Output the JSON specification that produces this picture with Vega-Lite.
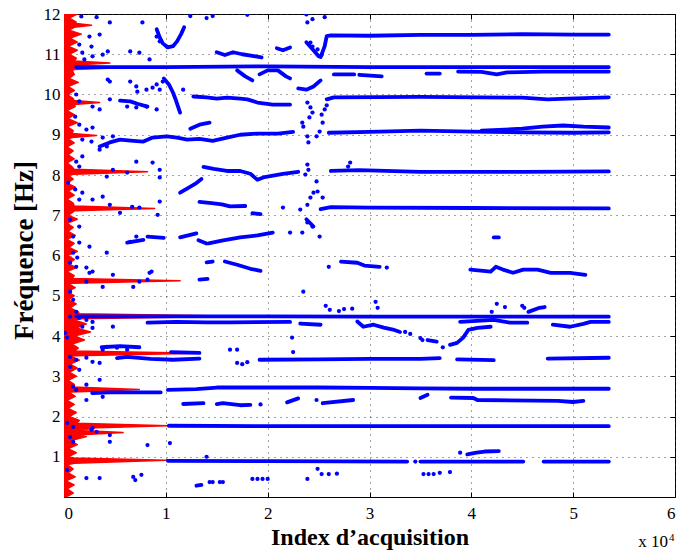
{
  "$schema": "https://vega.github.io/schema/vega-lite/v6.json",
  "width": 611,
  "height": 483,
  "autosize": {"type": "none"},
  "padding": {"left": 64, "top": 14, "right": 7, "bottom": 59},
  "background": "white",
  "config": {
    "view": {"stroke": "black", "strokeWidth": 1},
    "axis": {
      "labelFont": "Liberation Serif",
      "labelFontSize": 17,
      "labelColor": "black",
      "titleFont": "Liberation Serif",
      "titleFontWeight": "bold",
      "titleFontSize": 24,
      "titleColor": "black",
      "domainColor": "black",
      "tickColor": "black",
      "tickSize": -5,
      "gridColor": "#333333",
      "gridDash": [1, 5],
      "gridOpacity": 0.9,
      "gridWidth": 1
    }
  },
  "datasets": {
    "red": [
      {"f":0.0,"a":0.02},{"f":0.1,"a":0.09},{"f":0.2,"a":0.03},{"f":0.3,"a":0.1},{"f":0.4,"a":0.02},{"f":0.5,"a":0.11},{"f":0.6,"a":0.04},{"f":0.7,"a":0.09},{"f":0.8,"a":0.03},
      {"f":0.84,"a":0.1},{"f":0.91,"a":1.0},{"f":0.97,"a":0.1},
      {"f":1.0,"a":0.04},{"f":1.1,"a":0.12},{"f":1.2,"a":0.04},{"f":1.3,"a":0.13},{"f":1.4,"a":0.06},{"f":1.5,"a":0.22},
      {"f":1.54,"a":0.12},{"f":1.6,"a":0.58},{"f":1.66,"a":0.12},{"f":1.7,"a":0.3},
      {"f":1.71,"a":0.15},{"f":1.77,"a":1.02},{"f":1.83,"a":0.12},
      {"f":1.9,"a":0.15},{"f":2.0,"a":0.05},{"f":2.1,"a":0.12},{"f":2.2,"a":0.04},{"f":2.3,"a":0.1},{"f":2.4,"a":0.03},{"f":2.5,"a":0.11},{"f":2.6,"a":0.05},
      {"f":2.61,"a":0.08},{"f":2.67,"a":0.74},{"f":2.73,"a":0.08},
      {"f":2.8,"a":0.1},{"f":2.9,"a":0.04},{"f":3.0,"a":0.12},{"f":3.1,"a":0.05},{"f":3.2,"a":0.13},{"f":3.3,"a":0.06},{"f":3.4,"a":0.15},{"f":3.5,"a":0.07},
      {"f":3.51,"a":0.1},{"f":3.57,"a":1.33},{"f":3.63,"a":0.1},
      {"f":3.7,"a":0.14},{"f":3.8,"a":0.08},{"f":3.9,"a":0.2},{"f":4.0,"a":0.1},{"f":4.1,"a":0.26},{"f":4.2,"a":0.12},{"f":4.3,"a":0.22},{"f":4.4,"a":0.1},
      {"f":4.43,"a":0.15},{"f":4.49,"a":1.75},{"f":4.55,"a":0.15},
      {"f":4.6,"a":0.14},{"f":4.7,"a":0.06},{"f":4.8,"a":0.12},{"f":4.9,"a":0.04},{"f":5.0,"a":0.1},{"f":5.1,"a":0.03},{"f":5.2,"a":0.11},{"f":5.3,"a":0.04},
      {"f":5.31,"a":0.08},{"f":5.37,"a":1.14},{"f":5.43,"a":0.08},
      {"f":5.5,"a":0.1},{"f":5.6,"a":0.03},{"f":5.7,"a":0.12},{"f":5.8,"a":0.04},{"f":5.9,"a":0.1},{"f":6.0,"a":0.03},{"f":6.1,"a":0.13},{"f":6.2,"a":0.05},{"f":6.3,"a":0.1},{"f":6.4,"a":0.03},{"f":6.5,"a":0.11},{"f":6.6,"a":0.04},{"f":6.7,"a":0.09},{"f":6.8,"a":0.03},{"f":6.9,"a":0.13},{"f":7.0,"a":0.04},{"f":7.1,"a":0.1},
      {"f":7.11,"a":0.1},{"f":7.17,"a":0.89},{"f":7.23,"a":0.1},
      {"f":7.3,"a":0.09},{"f":7.4,"a":0.03},{"f":7.5,"a":0.1},{"f":7.6,"a":0.04},{"f":7.7,"a":0.11},{"f":7.8,"a":0.03},{"f":7.9,"a":0.09},{"f":8.0,"a":0.04},
      {"f":8.02,"a":0.1},{"f":8.08,"a":0.82},{"f":8.14,"a":0.1},
      {"f":8.2,"a":0.08},{"f":8.3,"a":0.03},{"f":8.4,"a":0.1},{"f":8.5,"a":0.04},{"f":8.6,"a":0.09},{"f":8.7,"a":0.03},{"f":8.8,"a":0.1},{"f":8.9,"a":0.04},
      {"f":8.93,"a":0.08},{"f":8.98,"a":0.32},{"f":9.03,"a":0.08},
      {"f":9.1,"a":0.09},{"f":9.2,"a":0.03},{"f":9.3,"a":0.13},{"f":9.4,"a":0.04},{"f":9.5,"a":0.1},{"f":9.6,"a":0.03},{"f":9.7,"a":0.11},
      {"f":9.75,"a":0.1},{"f":9.8,"a":0.35},{"f":9.85,"a":0.1},
      {"f":9.9,"a":0.09},{"f":10.0,"a":0.03},{"f":10.1,"a":0.1},{"f":10.2,"a":0.04},{"f":10.3,"a":0.14},{"f":10.4,"a":0.05},{"f":10.5,"a":0.1},{"f":10.6,"a":0.08},
      {"f":10.62,"a":0.1},{"f":10.67,"a":0.63},{"f":10.72,"a":0.1},
      {"f":10.73,"a":0.1},{"f":10.78,"a":0.45},{"f":10.83,"a":0.1},
      {"f":10.9,"a":0.12},{"f":11.0,"a":0.05},{"f":11.1,"a":0.13},{"f":11.2,"a":0.04},{"f":11.3,"a":0.13},{"f":11.4,"a":0.06},{"f":11.5,"a":0.17},{"f":11.6,"a":0.05},
      {"f":11.67,"a":0.1},{"f":11.72,"a":0.27},{"f":11.77,"a":0.1},
      {"f":11.8,"a":0.12},{"f":11.9,"a":0.05},{"f":12.0,"a":0.13}
    ],
    "seg": [
      {"s":1,"x":2.52,"y":10.93},{"s":1,"x":2.56,"y":11.2},{"s":1,"x":2.58,"y":11.45},{"s":1,"x":2.62,"y":11.47},{"s":1,"x":3.0,"y":11.46},{"s":1,"x":3.5,"y":11.48},{"s":1,"x":4.0,"y":11.48},{"s":1,"x":4.5,"y":11.5},{"s":1,"x":5.0,"y":11.49},{"s":1,"x":5.35,"y":11.49},
      {"s":2,"x":0.12,"y":10.68},{"s":2,"x":1.0,"y":10.68},{"s":2,"x":2.0,"y":10.7},{"s":2,"x":3.0,"y":10.68},{"s":2,"x":4.0,"y":10.68},{"s":2,"x":5.35,"y":10.68},
      {"s":3,"x":3.87,"y":10.57},{"s":3,"x":4.1,"y":10.56},{"s":3,"x":4.25,"y":10.5},{"s":3,"x":4.35,"y":10.55},{"s":3,"x":4.7,"y":10.57},{"s":3,"x":5.35,"y":10.57},
      {"s":4,"x":2.65,"y":10.5},{"s":4,"x":2.85,"y":10.5},
      {"s":5,"x":2.9,"y":10.49},{"s":5,"x":3.12,"y":10.45},
      {"s":6,"x":3.56,"y":10.52},{"s":6,"x":3.69,"y":10.52},
      {"s":7,"x":1.7,"y":10.6},{"s":7,"x":1.78,"y":10.45},{"s":7,"x":1.85,"y":10.35},
      {"s":8,"x":1.92,"y":10.5},{"s":8,"x":2.0,"y":10.6},{"s":8,"x":2.1,"y":10.6},{"s":8,"x":2.18,"y":10.45},{"s":8,"x":2.22,"y":10.4},
      {"s":9,"x":2.3,"y":10.15},{"s":9,"x":2.38,"y":10.12},{"s":9,"x":2.45,"y":10.2},{"s":9,"x":2.52,"y":10.35},
      {"s":11,"x":1.5,"y":11.05},{"s":11,"x":1.58,"y":10.98},{"s":11,"x":1.66,"y":11.05},{"s":11,"x":1.75,"y":11.0},{"s":11,"x":1.85,"y":10.96},{"s":11,"x":1.94,"y":10.92},
      {"s":12,"x":0.91,"y":11.62},{"s":12,"x":0.94,"y":11.42},{"s":12,"x":0.97,"y":11.27},{"s":12,"x":1.02,"y":11.17},{"s":12,"x":1.07,"y":11.2},{"s":12,"x":1.11,"y":11.32},{"s":12,"x":1.15,"y":11.5},{"s":12,"x":1.18,"y":11.67},
      {"s":13,"x":2.09,"y":11.15},{"s":13,"x":2.15,"y":11.1},{"s":13,"x":2.22,"y":11.17},
      {"s":14,"x":2.38,"y":11.3},{"s":14,"x":2.45,"y":11.1},{"s":14,"x":2.5,"y":10.95},
      {"s":15,"x":0.98,"y":10.4},{"s":15,"x":1.03,"y":10.25},{"s":15,"x":1.07,"y":10.05},{"s":15,"x":1.1,"y":9.85},{"s":15,"x":1.14,"y":9.55},
      {"s":16,"x":1.27,"y":9.95},{"s":16,"x":1.4,"y":9.93},{"s":16,"x":1.5,"y":9.9},{"s":16,"x":1.6,"y":9.92},{"s":16,"x":1.73,"y":9.9},{"s":16,"x":1.8,"y":9.88},{"s":16,"x":1.9,"y":9.8},{"s":16,"x":2.05,"y":9.75},{"s":16,"x":2.22,"y":9.75},
      {"s":17,"x":0.55,"y":9.85},{"s":17,"x":0.65,"y":9.83},{"s":17,"x":0.72,"y":9.77},{"s":17,"x":0.82,"y":9.7},
      {"s":18,"x":2.58,"y":9.88},{"s":18,"x":2.65,"y":9.93},{"s":18,"x":3.5,"y":9.94},{"s":18,"x":4.5,"y":9.92},{"s":18,"x":4.75,"y":9.88},{"s":18,"x":4.95,"y":9.9},{"s":18,"x":5.35,"y":9.93},
      {"s":19,"x":0.35,"y":8.71},{"s":19,"x":0.45,"y":8.81},{"s":19,"x":0.55,"y":8.88},{"s":19,"x":0.68,"y":8.85},{"s":19,"x":0.78,"y":8.83},{"s":19,"x":0.87,"y":8.93},{"s":19,"x":1.01,"y":8.96},{"s":19,"x":1.11,"y":8.93},{"s":19,"x":1.21,"y":8.88},{"s":19,"x":1.33,"y":8.9},{"s":19,"x":1.46,"y":8.85},{"s":19,"x":1.6,"y":8.93},{"s":19,"x":1.73,"y":9.0},{"s":19,"x":1.9,"y":9.03},{"s":19,"x":2.1,"y":9.03},{"s":19,"x":2.25,"y":9.07},
      {"s":20,"x":1.24,"y":9.15},{"s":20,"x":1.33,"y":9.25},{"s":20,"x":1.43,"y":9.3},
      {"s":21,"x":2.6,"y":9.05},{"s":21,"x":3.0,"y":9.07},{"s":21,"x":3.5,"y":9.1},{"s":21,"x":4.0,"y":9.08},{"s":21,"x":4.5,"y":9.06},{"s":21,"x":5.0,"y":9.05},{"s":21,"x":5.35,"y":9.06},
      {"s":22,"x":4.1,"y":9.1},{"s":22,"x":4.5,"y":9.15},{"s":22,"x":4.7,"y":9.2},{"s":22,"x":4.9,"y":9.23},{"s":22,"x":5.1,"y":9.2},{"s":22,"x":5.35,"y":9.18},
      {"s":23,"x":1.37,"y":8.2},{"s":23,"x":1.47,"y":8.15},{"s":23,"x":1.6,"y":8.1},{"s":23,"x":1.73,"y":8.1},{"s":23,"x":1.83,"y":8.03},{"s":23,"x":1.9,"y":7.88},{"s":23,"x":1.97,"y":7.95},{"s":23,"x":2.15,"y":8.03},{"s":23,"x":2.3,"y":8.08},
      {"s":24,"x":1.14,"y":7.56},{"s":24,"x":1.2,"y":7.65},{"s":24,"x":1.3,"y":7.8},{"s":24,"x":1.35,"y":7.9},
      {"s":25,"x":2.62,"y":8.1},{"s":25,"x":2.9,"y":8.12},{"s":25,"x":3.5,"y":8.08},{"s":25,"x":4.5,"y":8.08},{"s":25,"x":5.35,"y":8.09},
      {"s":27,"x":1.33,"y":7.33},{"s":27,"x":1.45,"y":7.3},{"s":27,"x":1.55,"y":7.27},{"s":27,"x":1.63,"y":7.22},{"s":27,"x":1.78,"y":7.23},
      {"s":28,"x":1.85,"y":7.05},{"s":28,"x":1.93,"y":7.03},
      {"s":29,"x":2.52,"y":7.15},{"s":29,"x":2.62,"y":7.2},{"s":29,"x":3.0,"y":7.19},{"s":29,"x":4.0,"y":7.18},{"s":29,"x":5.35,"y":7.17},
      {"s":30,"x":0.62,"y":6.32},{"s":30,"x":0.78,"y":6.39},
      {"s":31,"x":0.82,"y":6.47},{"s":31,"x":0.98,"y":6.44},
      {"s":32,"x":1.14,"y":6.45},{"s":32,"x":1.3,"y":6.55},
      {"s":33,"x":1.32,"y":6.38},{"s":33,"x":1.4,"y":6.3},
      {"s":34,"x":1.42,"y":6.3},{"s":34,"x":1.55,"y":6.37},{"s":34,"x":1.73,"y":6.45},{"s":34,"x":1.9,"y":6.5},{"s":34,"x":2.05,"y":6.57},
      {"s":35,"x":2.38,"y":6.9},{"s":35,"x":2.45,"y":6.72},
      {"s":36,"x":4.22,"y":6.45},{"s":36,"x":4.27,"y":6.45},
      {"s":37,"x":1.4,"y":5.83},{"s":37,"x":1.46,"y":5.85},
      {"s":38,"x":1.58,"y":5.85},{"s":38,"x":1.7,"y":5.77},{"s":38,"x":1.83,"y":5.67},{"s":38,"x":1.93,"y":5.62},
      {"s":39,"x":2.72,"y":5.85},{"s":39,"x":2.88,"y":5.82},{"s":39,"x":2.95,"y":5.75},{"s":39,"x":3.1,"y":5.72},
      {"s":40,"x":3.99,"y":5.65},{"s":40,"x":4.19,"y":5.6},{"s":40,"x":4.24,"y":5.72},{"s":40,"x":4.31,"y":5.65},{"s":40,"x":4.41,"y":5.57},{"s":40,"x":4.51,"y":5.65},{"s":40,"x":4.65,"y":5.65},{"s":40,"x":4.78,"y":5.57},{"s":40,"x":4.97,"y":5.57},{"s":40,"x":5.12,"y":5.52},
      {"s":41,"x":1.33,"y":5.4},{"s":41,"x":1.41,"y":5.42},
      {"s":42,"x":0.12,"y":4.49},{"s":42,"x":1.0,"y":4.49},{"s":42,"x":2.0,"y":4.49},{"s":42,"x":3.0,"y":4.48},{"s":42,"x":4.0,"y":4.48},{"s":42,"x":5.35,"y":4.48},
      {"s":43,"x":0.82,"y":4.33},{"s":43,"x":1.1,"y":4.35},{"s":43,"x":1.4,"y":4.34},{"s":43,"x":1.63,"y":4.34},{"s":43,"x":2.22,"y":4.35},
      {"s":44,"x":2.32,"y":4.31},{"s":44,"x":2.52,"y":4.28},
      {"s":45,"x":2.88,"y":4.36},{"s":45,"x":2.94,"y":4.23},{"s":45,"x":3.04,"y":4.28},{"s":45,"x":3.14,"y":4.21},{"s":45,"x":3.23,"y":4.16},{"s":45,"x":3.3,"y":4.1},
      {"s":46,"x":3.57,"y":3.9},{"s":46,"x":3.66,"y":3.86},
      {"s":47,"x":3.79,"y":3.78},{"s":47,"x":3.86,"y":3.83},{"s":47,"x":3.92,"y":3.96},{"s":47,"x":3.97,"y":4.15},{"s":47,"x":4.06,"y":4.2},{"s":47,"x":4.19,"y":4.23},
      {"s":48,"x":3.89,"y":4.35},{"s":48,"x":4.22,"y":4.4},{"s":48,"x":4.38,"y":4.33},{"s":48,"x":4.55,"y":4.33},
      {"s":49,"x":4.8,"y":4.28},{"s":49,"x":4.97,"y":4.23},{"s":49,"x":5.1,"y":4.3},{"s":49,"x":5.17,"y":4.35},{"s":49,"x":5.35,"y":4.35},
      {"s":50,"x":4.56,"y":4.6},{"s":50,"x":4.67,"y":4.7},{"s":50,"x":4.72,"y":4.72},
      {"s":51,"x":0.37,"y":3.72},{"s":51,"x":0.55,"y":3.75},{"s":51,"x":0.74,"y":3.72},
      {"s":52,"x":0.52,"y":3.45},{"s":52,"x":0.62,"y":3.48},{"s":52,"x":0.85,"y":3.43},{"s":52,"x":1.07,"y":3.41},{"s":52,"x":1.33,"y":3.44},
      {"s":53,"x":1.05,"y":3.6},{"s":53,"x":1.33,"y":3.58},
      {"s":54,"x":1.92,"y":3.41},{"s":54,"x":2.5,"y":3.42},{"s":54,"x":3.0,"y":3.43},{"s":54,"x":3.5,"y":3.43},{"s":54,"x":3.69,"y":3.45},
      {"s":55,"x":3.86,"y":3.42},{"s":55,"x":4.22,"y":3.4},
      {"s":56,"x":4.75,"y":3.44},{"s":56,"x":5.35,"y":3.46},
      {"s":57,"x":0.28,"y":2.58},{"s":57,"x":0.45,"y":2.6},{"s":57,"x":0.65,"y":2.6},{"s":57,"x":0.8,"y":2.6},{"s":57,"x":0.95,"y":2.6},
      {"s":58,"x":1.02,"y":2.66},{"s":58,"x":1.3,"y":2.68},{"s":58,"x":1.5,"y":2.72},{"s":58,"x":1.73,"y":2.72},{"s":58,"x":2.5,"y":2.72},{"s":58,"x":3.0,"y":2.71},{"s":58,"x":3.5,"y":2.7},{"s":58,"x":4.0,"y":2.69},{"s":58,"x":5.35,"y":2.69},
      {"s":59,"x":1.17,"y":2.31},{"s":59,"x":1.37,"y":2.33},
      {"s":60,"x":1.5,"y":2.31},{"s":60,"x":1.56,"y":2.33},{"s":60,"x":1.73,"y":2.28},{"s":60,"x":1.83,"y":2.29},
      {"s":61,"x":2.19,"y":2.35},{"s":61,"x":2.3,"y":2.45},
      {"s":62,"x":2.54,"y":2.33},{"s":62,"x":2.84,"y":2.41},
      {"s":63,"x":3.5,"y":2.46},{"s":63,"x":3.57,"y":2.54},
      {"s":64,"x":3.8,"y":2.47},{"s":64,"x":4.02,"y":2.46},{"s":64,"x":4.06,"y":2.41},{"s":64,"x":4.85,"y":2.39},{"s":64,"x":5.0,"y":2.36},{"s":64,"x":5.1,"y":2.39},
      {"s":65,"x":1.03,"y":1.77},{"s":65,"x":2.0,"y":1.76},{"s":65,"x":3.0,"y":1.76},{"s":65,"x":4.0,"y":1.76},{"s":65,"x":5.35,"y":1.76},
      {"s":66,"x":3.96,"y":1.06},{"s":66,"x":4.05,"y":1.1},{"s":66,"x":4.13,"y":1.13},{"s":66,"x":4.27,"y":1.14},
      {"s":67,"x":1.02,"y":0.9},{"s":67,"x":2.0,"y":0.89},{"s":67,"x":3.37,"y":0.88},
      {"s":68,"x":3.5,"y":0.88},{"s":68,"x":4.51,"y":0.88},
      {"s":69,"x":4.71,"y":0.88},{"s":69,"x":5.35,"y":0.88},
      {"s":70,"x":1.3,"y":0.28},{"s":70,"x":1.35,"y":0.3}
    ],
    "dots": [
      {"x":0.17,"y":11.94},{"x":0.32,"y":11.92},{"x":0.45,"y":11.79},{"x":0.35,"y":11.49},{"x":0.25,"y":11.44},{"x":0.15,"y":11.24},{"x":0.27,"y":11.19},{"x":0.18,"y":11.04},{"x":0.28,"y":10.95},{"x":0.2,"y":10.87},{"x":0.38,"y":10.99},{"x":0.43,"y":11.07},{"x":0.65,"y":11.07},{"x":0.74,"y":11.04},{"x":0.84,"y":10.87},{"x":0.94,"y":11.32},{"x":1.01,"y":11.19},{"x":0.77,"y":11.79},{"x":0.91,"y":11.44},
      {"x":0.43,"y":10.37},{"x":0.45,"y":10.32},{"x":0.65,"y":10.32},{"x":0.71,"y":10.2},{"x":0.72,"y":10.07},{"x":0.91,"y":10.25},{"x":0.97,"y":10.32},{"x":0.94,"y":10.12},
      {"x":0.12,"y":10.0},{"x":0.15,"y":9.83},{"x":0.28,"y":9.7},{"x":0.35,"y":9.63},{"x":0.45,"y":9.88},{"x":0.62,"y":9.7},{"x":0.71,"y":9.68},{"x":0.81,"y":9.7},{"x":0.91,"y":9.63},{"x":0.11,"y":9.45},{"x":0.15,"y":9.25},{"x":0.22,"y":9.13},{"x":0.28,"y":9.18},{"x":0.18,"y":8.88},{"x":0.27,"y":8.83},{"x":0.38,"y":8.93},{"x":0.48,"y":8.96},{"x":0.42,"y":8.71},{"x":0.35,"y":8.63},{"x":0.18,"y":8.46},{"x":0.12,"y":8.33},{"x":0.15,"y":8.21},{"x":0.71,"y":8.33},{"x":0.62,"y":8.06},{"x":0.48,"y":8.13},{"x":0.42,"y":7.96},{"x":0.87,"y":8.31},{"x":0.94,"y":8.13},{"x":0.94,"y":7.94},{"x":0.04,"y":7.81},{"x":0.11,"y":7.64},{"x":0.18,"y":7.56},{"x":0.15,"y":7.39},{"x":0.28,"y":7.39},{"x":0.38,"y":7.46},{"x":0.45,"y":7.26},{"x":0.55,"y":7.06},{"x":0.67,"y":7.21},{"x":0.74,"y":7.19},{"x":0.94,"y":7.34},{"x":0.92,"y":7.01},{"x":0.06,"y":6.89},{"x":0.15,"y":6.72},{"x":0.09,"y":6.47},{"x":0.15,"y":6.32},{"x":0.25,"y":6.22},{"x":0.71,"y":6.47},{"x":0.65,"y":6.34},
      {"x":0.09,"y":6.07},{"x":0.13,"y":5.95},{"x":0.06,"y":5.82},{"x":0.12,"y":5.72},{"x":0.42,"y":6.07},{"x":0.22,"y":5.7},{"x":0.25,"y":5.57},{"x":0.28,"y":5.6},{"x":0.48,"y":5.52},{"x":0.84,"y":5.57},{"x":0.22,"y":5.35},{"x":0.38,"y":5.22},{"x":0.68,"y":5.22},{"x":0.74,"y":5.35},{"x":0.82,"y":5.4},{"x":0.06,"y":5.1},{"x":0.09,"y":4.9},{"x":0.12,"y":4.6},{"x":0.06,"y":4.48},{"x":0.15,"y":4.45},{"x":0.22,"y":4.4},{"x":0.28,"y":4.35},{"x":0.18,"y":4.23},{"x":0.28,"y":4.2},{"x":0.48,"y":4.23},{"x":0.01,"y":4.08},{"x":0.03,"y":3.96},{"x":0.38,"y":3.66},{"x":0.42,"y":3.73},{"x":0.52,"y":3.71},{"x":0.62,"y":3.66},{"x":0.06,"y":3.48},{"x":0.12,"y":3.41},{"x":0.22,"y":3.46},{"x":0.28,"y":3.36},{"x":0.35,"y":3.33},{"x":0.06,"y":3.23},{"x":0.15,"y":3.16},{"x":0.09,"y":2.74},{"x":0.12,"y":2.66},{"x":0.22,"y":2.79},{"x":0.35,"y":2.91},{"x":0.28,"y":2.59},{"x":0.38,"y":2.49},{"x":0.22,"y":2.41},{"x":0.03,"y":1.84},{"x":0.09,"y":1.74},{"x":0.28,"y":1.72},{"x":0.27,"y":1.67},{"x":0.32,"y":1.62},{"x":0.45,"y":1.54},{"x":0.45,"y":1.37},{"x":0.06,"y":1.49},{"x":0.09,"y":1.37},{"x":0.03,"y":0.67},{"x":0.22,"y":0.47},{"x":0.35,"y":0.47},{"x":0.68,"y":0.5},{"x":0.7,"y":0.42},{"x":0.76,"y":0.55},{"x":0.82,"y":1.29},{"x":0.86,"y":5.6},
      {"x":1.04,"y":1.34},{"x":1.4,"y":1.0},{"x":1.43,"y":0.37},{"x":1.46,"y":0.37},{"x":1.53,"y":0.37},{"x":1.56,"y":0.37},
      {"x":1.24,"y":11.95},{"x":1.4,"y":11.9},{"x":1.46,"y":11.95},{"x":1.8,"y":11.98},{"x":0.81,"y":10.12},{"x":0.87,"y":10.17},{"x":1.17,"y":10.12},
      {"x":2.38,"y":11.99},{"x":2.39,"y":11.79},{"x":2.44,"y":11.87},{"x":2.56,"y":11.92},{"x":2.42,"y":11.29},{"x":2.44,"y":11.19},{"x":2.49,"y":11.12},{"x":2.53,"y":10.99},
      {"x":2.39,"y":9.8},{"x":2.42,"y":9.68},{"x":2.44,"y":9.55},{"x":2.41,"y":9.43},{"x":2.34,"y":9.3},{"x":2.35,"y":9.2},{"x":2.39,"y":8.96},{"x":2.4,"y":8.81},{"x":2.48,"y":8.96},{"x":2.51,"y":9.08},{"x":2.54,"y":9.3},{"x":2.53,"y":9.5},{"x":2.56,"y":9.63},{"x":2.58,"y":9.73},
      {"x":2.39,"y":8.26},{"x":2.4,"y":8.13},{"x":2.37,"y":8.01},{"x":2.48,"y":7.84},{"x":2.79,"y":8.21},{"x":2.81,"y":8.31},
      {"x":2.32,"y":7.14},{"x":2.39,"y":7.26},{"x":2.42,"y":7.44},{"x":2.45,"y":7.56},{"x":2.49,"y":7.59},{"x":2.54,"y":7.44},{"x":2.15,"y":7.19},
      {"x":2.39,"y":6.82},{"x":2.44,"y":6.72},{"x":2.22,"y":6.57},{"x":2.34,"y":6.57},{"x":2.51,"y":6.47},{"x":2.6,"y":5.72},{"x":3.17,"y":5.7},
      {"x":2.35,"y":5.1},{"x":1.63,"y":3.66},{"x":1.7,"y":3.66},{"x":1.7,"y":3.33},{"x":1.75,"y":3.3},{"x":1.8,"y":3.35},{"x":1.93,"y":2.3},{"x":2.48,"y":2.41},{"x":1.85,"y":0.45},{"x":1.9,"y":0.45},{"x":1.95,"y":0.45},{"x":2.0,"y":0.45},{"x":2.39,"y":0.45},{"x":2.49,"y":0.7},{"x":2.53,"y":0.57},{"x":2.6,"y":0.57},{"x":2.68,"y":0.58},{"x":3.53,"y":0.57},{"x":3.58,"y":0.57},{"x":3.63,"y":0.57},{"x":3.69,"y":0.6},{"x":3.79,"y":0.62},{"x":3.45,"y":0.88},{"x":3.89,"y":1.1},{"x":2.24,"y":3.96},{"x":2.25,"y":3.6},
      {"x":2.57,"y":4.75},{"x":2.61,"y":4.65},{"x":2.7,"y":4.62},{"x":2.75,"y":4.67},{"x":2.83,"y":4.68},{"x":3.06,"y":4.85},{"x":3.08,"y":4.7},
      {"x":4.25,"y":4.8},{"x":4.33,"y":4.72},{"x":4.5,"y":4.75},{"x":4.52,"y":4.7},{"x":4.2,"y":4.6},
      {"x":3.35,"y":4.1},{"x":3.4,"y":4.05},{"x":3.5,"y":3.95},{"x":3.52,"y":3.9},{"x":3.72,"y":3.72}
    ]
  },
  "layer": [
    {
      "data": {"name": "red"},
      "mark": {"type": "area", "orient": "horizontal", "color": "#ff0000", "stroke": "#ff0000", "strokeWidth": 1.5, "strokeJoin": "round", "opacity": 1, "clip": true},
      "encoding": {
        "x": {"field": "a", "type": "quantitative", "stack": null,
              "scale": {"domain": [0, 6], "nice": false, "zero": false},
              "axis": {"values": [0,1,2,3,4,5,6], "format": "d", "grid": true, "title": "Index d’acquisition", "labelPadding": 13, "titlePadding": 4, "domain": false}},
        "y": {"field": "f", "type": "quantitative",
              "scale": {"domain": [0, 12], "nice": false, "zero": false},
              "axis": {"values": [1,2,3,4,5,6,7,8,9,10,11,12], "format": "d", "grid": true, "title": "Fréquence [Hz]", "titleFontSize": 27, "titleY": 236, "labelPadding": 9, "titlePadding": 5, "domain": false}}
      }
    },
    {
      "data": {"name": "seg"},
      "mark": {"type": "line", "color": "#0000ff", "strokeWidth": 3.8, "strokeCap": "round", "strokeJoin": "round", "clip": true},
      "encoding": {
        "x": {"field": "x", "type": "quantitative", "axis": null},
        "y": {"field": "y", "type": "quantitative", "axis": null},
        "detail": {"field": "s", "type": "nominal"}
      }
    },
    {
      "data": {"name": "dots"},
      "mark": {"type": "point", "filled": true, "color": "#0000ff", "size": 18, "opacity": 1, "clip": true},
      "encoding": {
        "x": {"field": "x", "type": "quantitative", "axis": null},
        "y": {"field": "y", "type": "quantitative", "axis": null}
      }
    },
    {
      "data": {"name": "dots"},
      "mark": {"type": "point", "opacity": 0},
      "encoding": {
        "x": {"field": "x", "type": "quantitative",
              "axis": {"orient": "top", "values": [0,1,2,3,4,5,6], "labels": false, "grid": false, "title": null, "domain": false}},
        "y": {"field": "y", "type": "quantitative",
              "axis": {"orient": "right", "values": [1,2,3,4,5,6,7,8,9,10,11,12], "labels": false, "grid": false, "title": null, "domain": false}}
      }
    },
    {
      "data": {"values": [{}]},
      "mark": {"type": "text", "text": "x 10", "font": "Liberation Serif", "fontSize": 17, "align": "right", "baseline": "alphabetic", "dx": -7, "dy": 50, "color": "black"},
      "encoding": {
        "x": {"datum": 6, "type": "quantitative", "axis": null},
        "y": {"datum": 0, "type": "quantitative", "axis": null}
      }
    },
    {
      "data": {"values": [{}]},
      "mark": {"type": "text", "text": "4", "font": "Liberation Serif", "fontSize": 11, "align": "left", "baseline": "alphabetic", "dx": -6, "dy": 44, "color": "black"},
      "encoding": {
        "x": {"datum": 6, "type": "quantitative", "axis": null},
        "y": {"datum": 0, "type": "quantitative", "axis": null}
      }
    }
  ],
  "resolve": {"axis": {"x": "independent", "y": "independent"}}
}
